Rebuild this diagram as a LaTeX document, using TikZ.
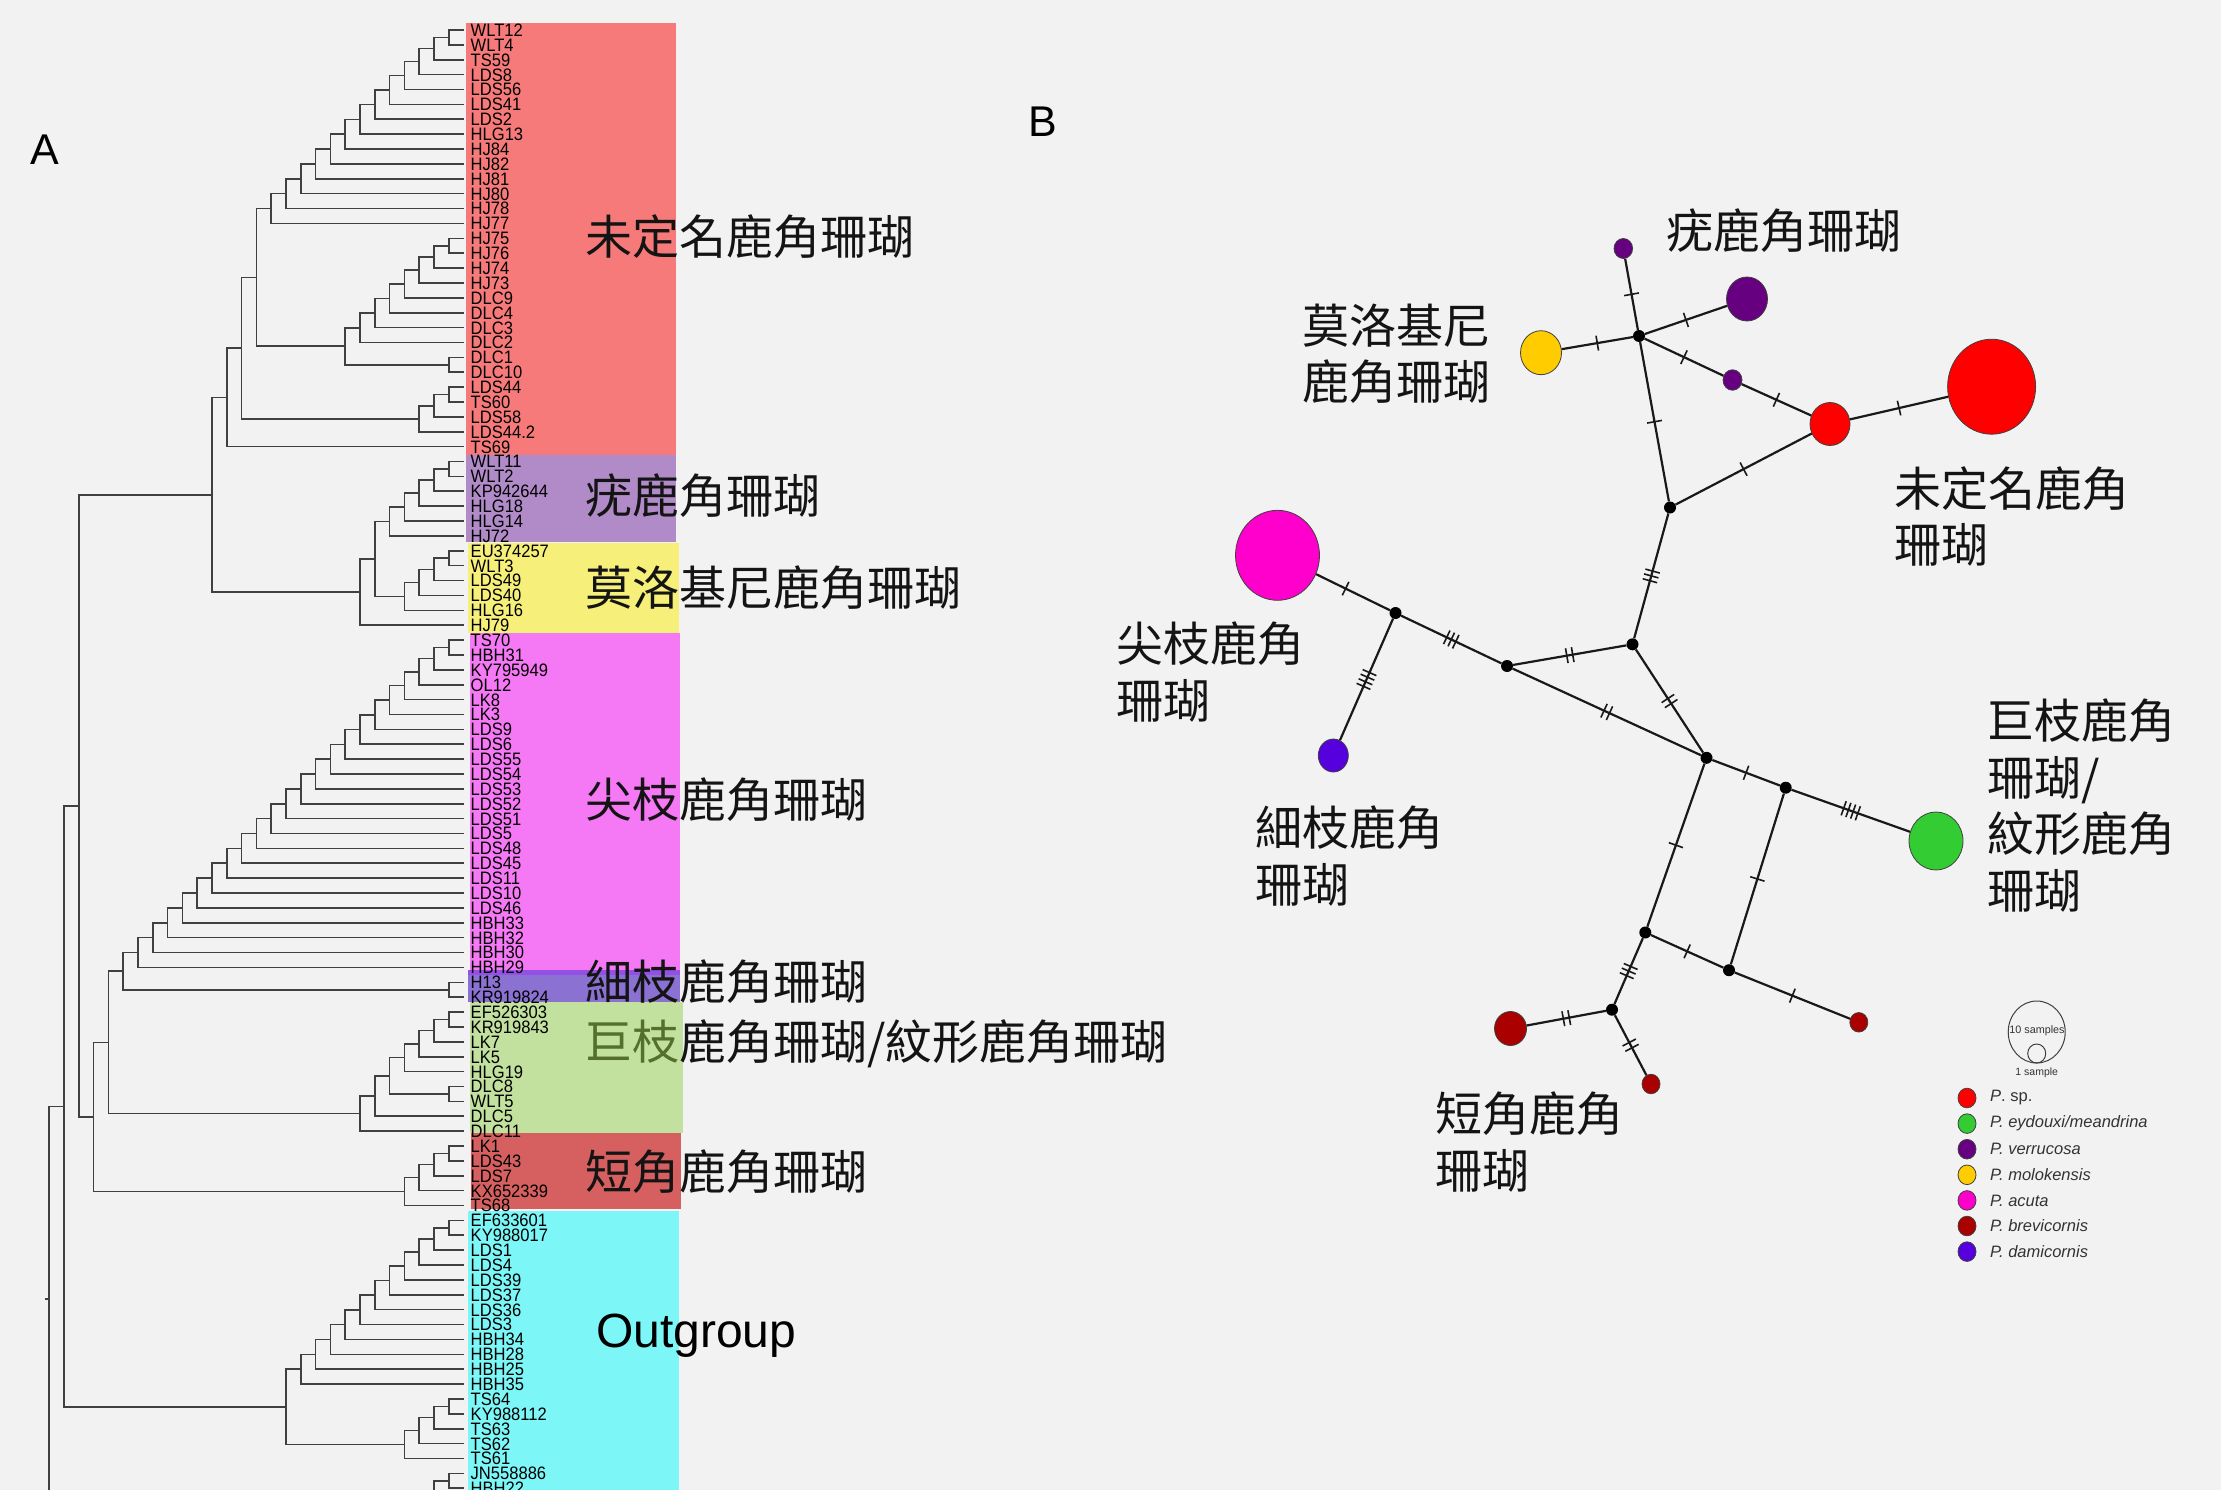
\documentclass[tikz,border=0pt]{standalone}
\usepackage{fontspec}
\setmainfont{Liberation Sans}
\newfontfamily\cjk{Noto Sans CJK TC}
\newfontfamily\leaffont[FakeStretch=0.92]{Liberation Sans}
\usetikzlibrary{calc,shapes.geometric,decorations.markings}
\definecolor{bg}{HTML}{F2F2F2}
\definecolor{bxred}{RGB}{247,122,122}
\definecolor{bxpurple}{RGB}{177,139,200}
\definecolor{bxyellow}{RGB}{246,239,122}
\definecolor{bxmag}{RGB}{245,120,245}
\definecolor{bxindigo}{RGB}{139,113,210}
\definecolor{bxindigotop}{RGB}{148,80,228}
\definecolor{bxgreen}{RGB}{194,224,158}
\definecolor{bxdred}{RGB}{214,96,96}
\definecolor{bxcyan}{RGB}{124,246,246}
\definecolor{dkgreen}{RGB}{84,112,44}
\definecolor{cred}{HTML}{FF0000}
\definecolor{cpurple}{HTML}{660080}
\definecolor{cyellow}{HTML}{FFCC00}
\definecolor{cmag}{HTML}{FF00CC}
\definecolor{cviolet}{HTML}{5500DD}
\definecolor{cgreen}{HTML}{33CC33}
\definecolor{cdred}{HTML}{AA0000}
\tikzset{
  tline/.style={line width=1.6pt, draw=black!75},
  leaflab/.style={anchor=base west, inner sep=0, font=\leaffont\fontsize{18}{18}\selectfont, text=black},
  bigcjk/.style={inner sep=0, font=\cjk\fontsize{47}{56.6}\selectfont, text=black!92},
  hap/.style={ellipse, draw=black!75, line width=0.8pt, inner sep=0},
  med/.style={circle, fill=black, inner sep=0, minimum size=12},
  netedge/.style={line width=2.2pt, draw=black!90},
  tick/.style={line width=1.6pt, draw=black!90},
  mutA/.style={postaction={decorate,decoration={markings,mark=at position #1 with {\draw[tick] (0pt,-7.5pt) -- (0pt,7.5pt);}}}},
  mutA/.default=0.5,
  mutB/.style={postaction={decorate,decoration={markings,mark=at position 0.5 with {\draw[tick] (-3pt,-7.5pt) -- (-3pt,7.5pt) (3pt,-7.5pt) -- (3pt,7.5pt);}}}},
  mutC/.style={postaction={decorate,decoration={markings,mark=at position 0.5 with {\draw[tick] (-5pt,-7.5pt) -- (-5pt,7.5pt) (0pt,-7.5pt) -- (0pt,7.5pt) (5pt,-7.5pt) -- (5pt,7.5pt);}}}},
  mutD/.style={postaction={decorate,decoration={markings,mark=at position 0.5 with {\draw[tick] (-7.5pt,-7.5pt) -- (-7.5pt,7.5pt) (-2.5pt,-7.5pt) -- (-2.5pt,7.5pt) (2.5pt,-7.5pt) -- (2.5pt,7.5pt) (7.5pt,-7.5pt) -- (7.5pt,7.5pt);}}}},
  legtxt/.style={anchor=west, inner sep=0, font=\fontsize{16.5}{18}\selectfont, text=black!80},
}
\newcommand\tn[4]{%
  \path let \p1=(#3), \p2=(#4) in coordinate (#1) at ({463.5pt-14.8pt*#2},{0.5*(\y1+\y2)});
  \draw[tline] (#1) |- (#3);
  \draw[tline] (#1) |- (#4);
}
\newcommand\ladder[3]{%
  \pgfmathtruncatemacro\lcA{#2}\pgfmathtruncatemacro\lcB{#2+1}%
  \tn{#11}{1}{L\lcA}{L\lcB}%
  \foreach \k in {2,...,#3}{%
    \pgfmathtruncatemacro\lcP{\k-1}\pgfmathtruncatemacro\lcL{#2+\k}%
    \tn{#1\k}{\k}{#1\lcP}{L\lcL}}%
}
\begin{document}
\begin{tikzpicture}[x=1pt,y=-1pt]
\fill[bg] (0,0) rectangle (2221,1490);
\useasboundingbox (0,0) rectangle (2221,1490);

% ---------- A: coloured boxes ----------
\fill[bxred] (466,23) rectangle (676,455);
\fill[bxpurple] (466,455) rectangle (676,542);
\fill[bxyellow] (468,543) rectangle (679,633);
\fill[bxmag] (470,633) rectangle (680,972);
\fill[bxindigo] (468,970) rectangle (680,1002);
\fill[bxindigotop] (468,970) rectangle (680,975);
\fill[bxgreen] (470,1002) rectangle (683,1133);
\fill[bxdred] (471,1133) rectangle (681,1209);
\fill[bxcyan] (468,1211) rectangle (679,1490);

% ---------- A: leaves ----------
\foreach \nm [count=\i] in {WLT12,WLT4,TS59,LDS8,LDS56,LDS41,LDS2,HLG13,HJ84,HJ82,HJ81,HJ80,HJ78,HJ77,HJ75,HJ76,HJ74,HJ73,DLC9,DLC4,DLC3,DLC2,DLC1,DLC10,LDS44,TS60,LDS58,LDS44.2,TS69,WLT11,WLT2,KP942644,HLG18,HLG14,HJ72,EU374257,WLT3,LDS49,LDS40,HLG16,HJ79,TS70,HBH31,KY795949,OL12,LK8,LK3,LDS9,LDS6,LDS55,LDS54,LDS53,LDS52,LDS51,LDS5,LDS48,LDS45,LDS11,LDS10,LDS46,HBH33,HBH32,HBH30,HBH29,H13,KR919824,EF526303,KR919843,LK7,LK5,HLG19,DLC8,WLT5,DLC5,DLC11,LK1,LDS43,LDS7,KX652339,TS68,EF633601,KY988017,LDS1,LDS4,LDS39,LDS37,LDS36,LDS3,HBH34,HBH28,HBH25,HBH35,TS64,KY988112,TS63,TS62,TS61,JN558886,HBH22}{
  \coordinate (L\i) at (463.5,{30+(\i-1)*14.88});
  \node[leaflab] (T\i) at (470.5,{36.4+(\i-1)*14.88}) {\nm};
}
\coordinate (L100) at (463.5,{30+99*14.88});

% ---------- A: tree ----------
\ladder{a}{1}{13}
\ladder{b}{15}{7}
\tn{bc}{1}{L23}{L24}
\tn{b8}{8}{b7}{bc}
\tn{nc}{14}{a13}{b8}
\ladder{d}{25}{3}
\tn{ne}{15}{nc}{d3}
\tn{nf}{16}{ne}{L29}
\ladder{p}{30}{5}
\ladder{q}{36}{4}
\tn{nr}{6}{p5}{q4}
\tn{ns}{7}{nr}{L41}
\tn{nt}{17}{nf}{ns}
\ladder{m}{42}{22}
\tn{h1}{1}{L65}{L66}
\tn{nu}{23}{m22}{h1}
\ladder{g}{67}{4}
\tn{gc}{1}{L72}{L73}
\tn{g5}{5}{g4}{gc}
\tn{g6}{6}{g5}{L74}
\tn{g7}{7}{g6}{L75}
\tn{nv}{24}{nu}{g7}
\ladder{k}{76}{4}
\tn{nw}{25}{nv}{k4}
\tn{nx}{26}{nt}{nw}
\ladder{o}{81}{11}
\ladder{t}{93}{4}
\tn{o12}{12}{o11}{t4}
\tn{ny}{27}{nx}{o12}
\ladder{z}{98}{2}
\tn{root}{28}{ny}{z2}
\draw[tline] (root) -- ++(-4.5,0);

% ---------- A: clade names ----------
\node[bigcjk, anchor=west] (cA1) at (585,236.5) {未定名鹿角珊瑚};
\node[bigcjk, anchor=west] (cA2) at (585,495.8) {疣鹿角珊瑚};
\node[bigcjk, anchor=west] (cA3) at (585,588) {莫洛基尼鹿角珊瑚};
\node[bigcjk, anchor=west] (cA4) at (585,800) {尖枝鹿角珊瑚};
\node[bigcjk, anchor=west] (cA5) at (585,981.6) {細枝鹿角珊瑚};
\node[bigcjk, anchor=west] (cA6) at (585,1044) {{\color{dkgreen}巨枝}鹿角珊瑚/紋形鹿角珊瑚};
\node[bigcjk, anchor=west] (cA7) at (585,1171.5) {短角鹿角珊瑚};
\node[anchor=west, inner sep=0, font=\fontsize{48}{50}\selectfont] (cA8) at (596,1335.5) {Outgroup};
\node[font=\fontsize{43}{45}\selectfont] (lblA) at (45.3,150) {A};
\node[font=\fontsize{43}{45}\selectfont] (lblB) at (1042.5,121.8) {B};

% ---------- B: network ----------
\node[hap, fill=cpurple, minimum width=18.6, minimum height=20] (Ptop) at (1623.3,248.5) {};
\node[med] (J1) at (1639,336) {};
\node[hap, fill=cyellow, minimum width=41, minimum height=44] (Yel) at (1541,352.7) {};
\node[hap, fill=cpurple, minimum width=41, minimum height=44] (Pmed) at (1747,299) {};
\node[hap, fill=cpurple, minimum width=19, minimum height=20.5] (Psm) at (1732.5,380) {};
\node[hap, fill=cred, minimum width=40, minimum height=43] (Rsm) at (1830,424) {};
\node[hap, fill=cred, minimum width=88, minimum height=95] (Rbig) at (1991.6,386.7) {};
\node[med] (J2) at (1670,507.5) {};
\node[med] (J3) at (1632.5,644.3) {};
\node[med] (J4) at (1507,666) {};
\node[med] (J5) at (1395.5,613) {};
\node[hap, fill=cmag, minimum width=84, minimum height=90] (Mag) at (1277.5,555.3) {};
\node[hap, fill=cviolet, minimum width=30, minimum height=33] (Vio) at (1333.3,755.5) {};
\node[med] (J6) at (1706.5,757.8) {};
\node[med] (J7) at (1785.7,787.7) {};
\node[hap, fill=cgreen, minimum width=54, minimum height=58] (Grn) at (1936,841) {};
\node[med] (J8) at (1645.3,932.5) {};
\node[med] (J9) at (1729,970.2) {};
\node[med] (J10) at (1612,1009.7) {};
\node[hap, fill=cdred, minimum width=32, minimum height=34] (DRbig) at (1510.5,1028.5) {};
\node[hap, fill=cdred, minimum width=18, minimum height=19.5] (DRb) at (1651,1084) {};
\node[hap, fill=cdred, minimum width=18, minimum height=19.5] (DRr) at (1858.8,1022.3) {};

\draw[netedge, mutA] (Ptop) -- (J1);
\draw[netedge, mutA] (J1) -- (Pmed);
\draw[netedge, mutA] (Yel) -- (J1);
\draw[netedge, mutA] (J1) -- (Psm);
\draw[netedge, mutA] (Psm) -- (Rsm);
\draw[netedge, mutA] (J1) -- (J2);
\draw[netedge, mutA] (J2) -- (Rsm);
\draw[netedge, mutA] (Rsm) -- (Rbig);
\draw[netedge, mutC] (J2) -- (J3);
\draw[netedge, mutB] (J4) -- (J3);
\draw[netedge, mutC] (J5) -- (J4);
\draw[netedge, mutA=0.4] (Mag) -- (J5);
\draw[netedge, mutD] (J5) -- (Vio);
\draw[netedge, mutB] (J4) -- (J6);
\draw[netedge, mutB] (J3) -- (J6);
\draw[netedge, mutA] (J6) -- (J7);
\draw[netedge, mutD] (J7) -- (Grn);
\draw[netedge, mutA] (J6) -- (J8);
\draw[netedge, mutA] (J7) -- (J9);
\draw[netedge, mutA] (J8) -- (J9);
\draw[netedge, mutC] (J8) -- (J10);
\draw[netedge, mutB] (DRbig) -- (J10);
\draw[netedge, mutB] (J10) -- (DRb);
\draw[netedge, mutA] (J9) -- (DRr);

% ---------- B: labels ----------
\node[bigcjk, anchor=west] (nB1) at (1665.8,230.9) {疣鹿角珊瑚};
\node[bigcjk, anchor=north west, align=left] (nB2) at (1301.8,303.4) {莫洛基尼\\鹿角珊瑚};
\node[bigcjk, anchor=north west, align=left] (nB3) at (1893.9,466.3) {未定名鹿角\\珊瑚};
\node[bigcjk, anchor=north west, align=left] (nB4) at (1116,622) {尖枝鹿角\\珊瑚};
\node[bigcjk, anchor=north west, align=left] (nB5) at (1255,806) {細枝鹿角\\珊瑚};
\node[bigcjk, anchor=north west, align=left] (nB6) at (1987,698.6) {巨枝鹿角\\珊瑚/\\紋形鹿角\\珊瑚};
\node[bigcjk, anchor=north west, align=left] (nB7) at (1435,1092) {短角鹿角\\珊瑚};

% ---------- B: legend ----------
\node[hap, line width=1pt, minimum width=57, minimum height=62] (LgBig) at (2036.7,1032) {};
\node[hap, line width=1pt, minimum width=18, minimum height=19] (LgSm) at (2036.7,1053.5) {};
\node[inner sep=0, font=\fontsize{10.8}{12}\selectfont, text=black!80] (LgT10) at (2037,1031) {10 samples};
\node[inner sep=0, font=\fontsize{10.5}{12}\selectfont, text=black!80] (LgT1) at (2036.7,1073) {1 sample};
\node[hap, fill=cred, minimum width=18, minimum height=19.6] (Lc1) at (1967,1098) {};
\node[hap, fill=cgreen, minimum width=18, minimum height=19.6] (Lc2) at (1967,1123.6) {};
\node[hap, fill=cpurple, minimum width=18, minimum height=19.6] (Lc3) at (1967,1149.2) {};
\node[hap, fill=cyellow, minimum width=18, minimum height=19.6] (Lc4) at (1967,1174.8) {};
\node[hap, fill=cmag, minimum width=18, minimum height=19.6] (Lc5) at (1967,1200.4) {};
\node[hap, fill=cdred, minimum width=18, minimum height=19.6] (Lc6) at (1967,1226) {};
\node[hap, fill=cviolet, minimum width=18, minimum height=19.6] (Lc7) at (1967,1251.6) {};
\node[legtxt] (Lt1) at (1990,1098) {\textit{P}. sp.};
\node[legtxt] (Lt2) at (1990,1123.6) {\textit{P. eydouxi/meandrina}};
\node[legtxt] (Lt3) at (1990,1149.2) {\textit{P. verrucosa}};
\node[legtxt] (Lt4) at (1990,1174.8) {\textit{P. molokensis}};
\node[legtxt] (Lt5) at (1990,1200.4) {\textit{P. acuta}};
\node[legtxt] (Lt6) at (1990,1226) {\textit{P. brevicornis}};
\node[legtxt] (Lt7) at (1990,1251.6) {\textit{P. damicornis}};
\end{tikzpicture}
\end{document}
